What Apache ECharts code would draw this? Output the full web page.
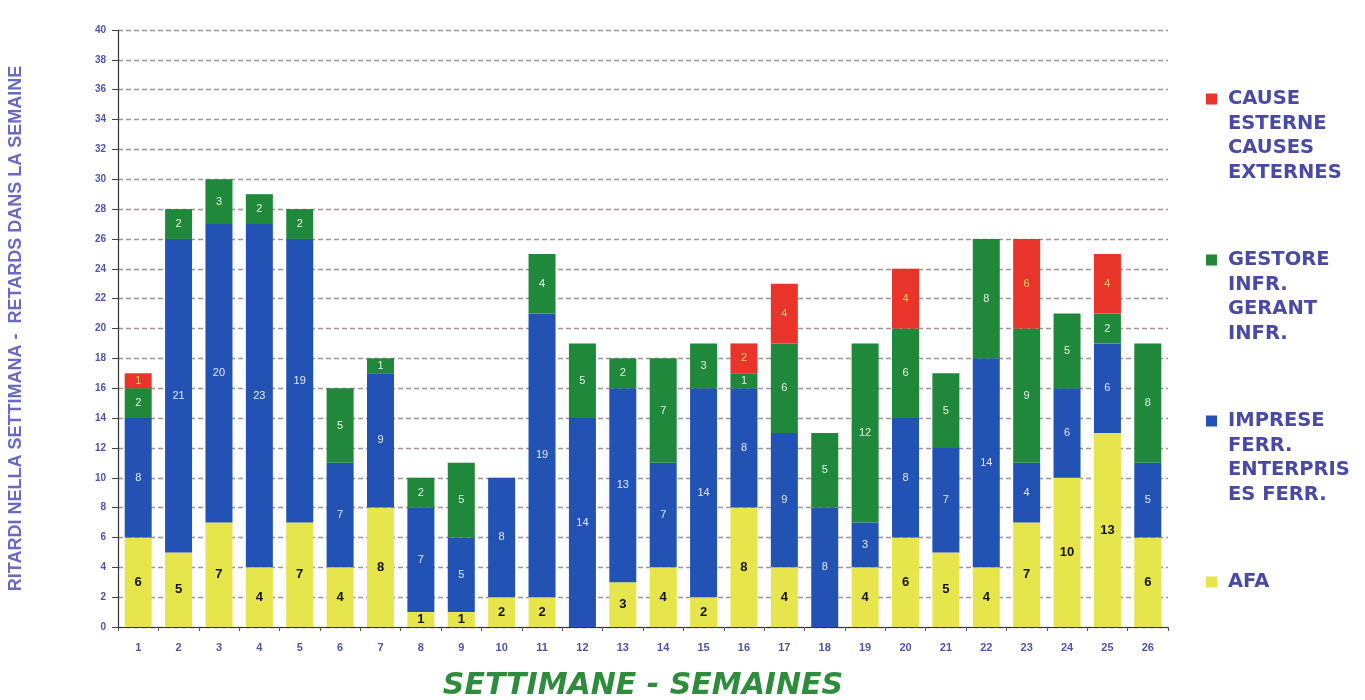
<!DOCTYPE html>
<html>
<head>
<meta charset="utf-8">
<script src="https://cdn.jsdelivr.net/npm/echarts@6/dist/echarts.min.js"></script>
<style>html,body{margin:0;padding:0;background:#fff;}#c{width:1365px;height:700px;}</style>
</head>
<body>
<div id="c"></div>
<script>
const weeks = ['1','2','3','4','5','6','7','8','9','10','11','12','13','14','15','16','17','18','19','20','21','22','23','24','25','26'];
const afa      = [6,5,7,4,7,4,8,1,1,2,2,0,3,4,2,8,4,0,4,6,5,4,7,10,13,6];
const imprese  = [8,21,20,23,19,7,9,7,5,8,19,14,13,7,14,8,9,8,3,8,7,14,4,6,6,5];
const gestore  = [2,2,3,2,2,5,1,2,5,0,4,5,2,7,3,1,6,5,12,6,5,8,9,5,2,8];
const esterne  = [1,0,0,0,0,0,0,0,0,0,0,0,0,0,0,2,4,0,0,4,0,0,6,0,4,0];

const seriesNames = ['AFA', 'IMPRESE FERR.', 'GESTORE INFR.', 'CAUSE ESTERNE'];
const legendTexts = {
  'CAUSE ESTERNE': 'CAUSE\nESTERNE\nCAUSES\nEXTERNES',
  'GESTORE INFR.': 'GESTORE\nINFR.\nGERANT\nINFR.',
  'IMPRESE FERR.': 'IMPRESE\nFERR.\nENTERPRIS\nES FERR.',
  'AFA': 'AFA\n \n \n '
};
const yAxisTitle = 'RITARDI NELLA SETTIMANA -  RETARDS DANS LA SEMAINE';
const xAxisTitle = 'SETTIMANE - SEMAINES';

const colors = { afa: '#e6e64c', imp: '#2152b4', ges: '#20883a', est: '#e8342a' };

const chart = echarts.init(document.getElementById('c'), null, { renderer: 'canvas' });

const hideZero = p => (p.value === 0 ? '' : String(p.value));

function bar(name, data, color, labelColor, bold, size) {
  return {
    name: name, type: 'bar', stack: 'tot', data: data, barWidth: 27,
    itemStyle: { color: color, borderWidth: 0 },
    label: {
      show: true, position: 'inside', formatter: hideZero,
      color: labelColor, fontSize: size, fontWeight: bold ? 'bold' : 'normal',
      fontFamily: 'Liberation Sans'
    },
    emphasis: { disabled: true }
  };
}

const iconPath = 'path://M0,0h0.01v0.01h-0.01zM0,6.5h11v11h-11zM16.99,97.99h0.01v0.01h-0.01z';

chart.setOption({
  animation: false,
  backgroundColor: '#ffffff',
  grid: { left: 118, right: 197, top: 30, bottom: 73, containLabel: false, outerBoundsMode: 'none' },
  legend: {
    orient: 'vertical', left: 1206, top: 87, itemGap: 63, padding: 0,
    itemWidth: 17, itemHeight: 98, icon: iconPath,
    itemStyle: { borderWidth: 0 },
    data: ['CAUSE ESTERNE', 'GESTORE INFR.', 'IMPRESE FERR.', 'AFA'],
    formatter: n => legendTexts[n],
    textStyle: { fontFamily: 'DejaVu Sans', fontWeight: 'bold', fontSize: 19.5, lineHeight: 24.5, color: '#4a4aa6' },
    selectedMode: false
  },
  xAxis: {
    type: 'category', data: weeks,
    name: xAxisTitle, nameLocation: 'middle', nameGap: 44,
    nameTextStyle: { fontFamily: 'DejaVu Sans', fontWeight: 'bold', fontStyle: 'italic', fontSize: 30, color: '#2f8c3c' },
    axisLine: { lineStyle: { color: '#333', width: 1.2 } },
    axisTick: { show: true, length: 4, lineStyle: { color: '#555' } },
    axisLabel: { margin: 15, fontFamily: 'Liberation Sans', fontWeight: 'bold', fontSize: 11, color: '#5252a8' }
  },
  yAxis: {
    type: 'value', min: 0, max: 40, interval: 2,
    name: yAxisTitle, nameLocation: 'middle', nameGap: 93, nameRotate: 90,
    nameTextStyle: { fontFamily: 'Liberation Sans', fontWeight: 'bold', fontSize: 18, color: '#6a6ac0' },
    axisLine: { show: true, lineStyle: { color: '#333', width: 1.2 } },
    axisTick: { show: true, length: 6, lineStyle: { color: '#444' } },
    axisLabel: { margin: 12, fontFamily: 'Liberation Sans', fontWeight: 'bold', fontSize: 10, color: '#5252a8' },
    splitLine: { show: true, lineStyle: { color: '#a09498', type: [5, 3], width: 1.3 } }
  },
  series: [
    bar(seriesNames[0], afa, colors.afa, '#111', true, 13),
    bar(seriesNames[1], imprese, colors.imp, '#e6e8f4', false, 11),
    bar(seriesNames[2], gestore, colors.ges, '#e6f0e6', false, 11),
    bar(seriesNames[3], esterne, colors.est, '#ffcf6a', false, 11)
  ]
});
</script>
</body>
</html>
